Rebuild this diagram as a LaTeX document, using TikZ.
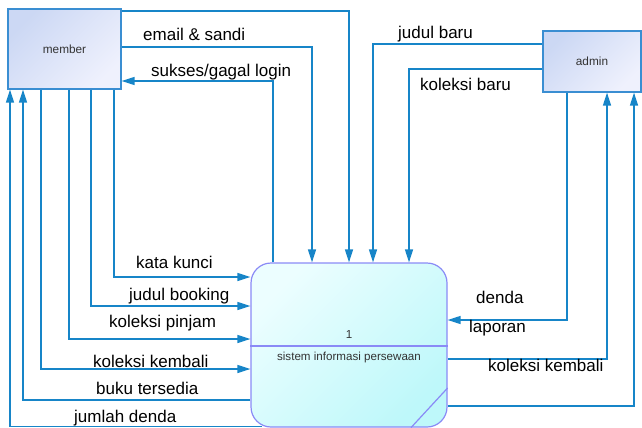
\documentclass[tikz,border=0pt]{standalone}
\usepackage{fontspec}
\setmainfont{Liberation Sans}
\usetikzlibrary{arrows.meta}
\definecolor{flowc}{HTML}{1785C8}
\definecolor{entdraw}{HTML}{3A8ED2}
\definecolor{entdark}{HTML}{CCD8F4}
\definecolor{entlight}{HTML}{EFF1FD}
\definecolor{procdraw}{HTML}{8A8AF6}
\definecolor{proclight}{HTML}{ECFEFF}
\definecolor{procdark}{HTML}{BEF8FA}
\definecolor{smalltext}{HTML}{333333}

\tikzset{
  flow/.style={draw=flowc, line width=1.3pt},
  flowin/.style={flow, -{Triangle[length=13pt,width=8pt]}},
  ext/.style={rectangle, draw=entdraw, line width=1.2pt,
    top color=entdark, bottom color=entlight, shading angle=45,
    inner sep=0pt, font=\fontsize{11.8}{14}\selectfont, text=smalltext},
  procbox/.style={rectangle, rounded corners=20pt, draw=procdraw, line width=1.2pt,
    top color=proclight, bottom color=procdark, shading angle=45,
    minimum width=196pt, minimum height=164pt, inner sep=0pt},
  proctext/.style={font=\fontsize{11.6}{14}\selectfont, text=smalltext, inner sep=0pt},
  lab/.style={font=\fontsize{17}{20}\selectfont, text=black, inner sep=0pt, anchor=base west}
}

\begin{document}
\begin{tikzpicture}[x=1pt, y=-1pt]
\useasboundingbox (0,0) rectangle (642,428);

% external entities and the process
\node[ext, minimum width=113pt, minimum height=80pt] (member) at (64.5,49) {member};
\node[ext, minimum width=98pt, minimum height=61pt] (admin) at (592,61.5) {admin};
\node[procbox] (proc) at (349,345) {};
\draw[procdraw, line width=1.2pt] (proc.west |- 0,346) -- (proc.east |- 0,346);
\draw[procdraw, line width=1.2pt] (proc.east |- 0,388) -- (proc.south -| 411,0);
\node[proctext] (pid) at (349,335) {1};
\node[proctext] (pname) at (349,357) {sistem informasi persewaan};

% member <-> process, upper side
\draw[flowin] (member.east |- 0,11) -| (proc.north -| 349,0);
\draw[flowin] (member.east |- 0,47) -| (proc.north -| 312,0);
\draw[flowin] (proc.north -| 273,0) |- (member.east |- 0,81);

% admin -> process, upper side
\draw[flowin] (admin.west |- 0,44) -| (proc.north -| 373,0);
\draw[flowin] (admin.west |- 0,69) -| (proc.north -| 409,0);

% admin <-> process, right side
\draw[flowin] (admin.south -| 567,0) |- (proc.east |- 0,320);
\draw[flowin] (proc.east |- 0,359) -| (admin.south -| 607,0);
\draw[flowin] (proc.east |- 0,406) -| (admin.south -| 634,0);

% member <-> process, left side
\draw[flowin] (member.south -| 114,0) |- (proc.west |- 0,277);
\draw[flowin] (member.south -| 91,0) |- (proc.west |- 0,306);
\draw[flowin] (member.south -| 69,0) |- (proc.west |- 0,339);
\draw[flowin] (member.south -| 41,0) |- (proc.west |- 0,369);
\draw[flowin] (proc.west |- 0,400) -| (member.south -| 23,0);
\draw[flowin] (proc.south -| 262,0) ++(0,-1) -| (member.south -| 10,0);

% flow labels
\node[lab] (l1) at (143,41) {email \& sandi};
\node[lab] (l2) at (151,77) {sukses/gagal login};
\node[lab] (l3) at (398,39) {judul baru};
\node[lab] (l4) at (420,90) {koleksi baru};
\node[lab] (l5) at (136,268) {kata kunci};
\node[lab] (l6) at (129,300) {judul booking};
\node[lab] (l7) at (109,327) {koleksi pinjam};
\node[lab] (l8) at (93,367) {koleksi kembali};
\node[lab] (l9) at (96,394) {buku tersedia};
\node[lab] (l10) at (74,422) {jumlah denda};
\node[lab] (l11) at (476,303) {denda};
\node[lab] (l12) at (469,332) {laporan};
\node[lab] (l13) at (488,371) {koleksi kembali};
\end{tikzpicture}
\end{document}
